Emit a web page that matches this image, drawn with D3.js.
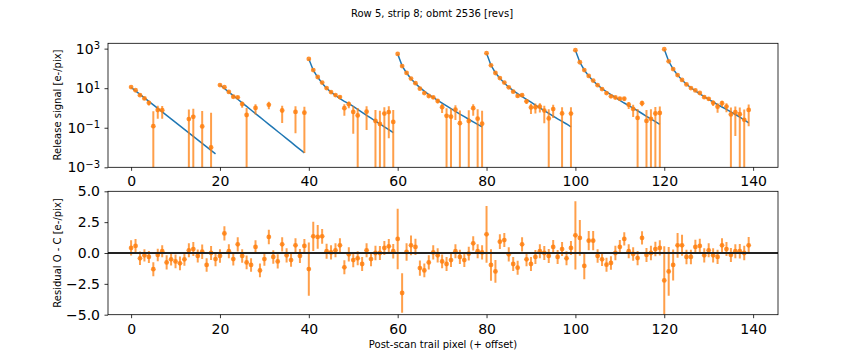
<!DOCTYPE html>
<html>
<head>
<meta charset="utf-8">
<script src="https://cdn.jsdelivr.net/npm/d3@7"></script>
<style>
  body { margin: 0; background: #fff; }
  text { font-family: "DejaVu Sans", sans-serif; fill: #000; }
</style>
</head>
<body>
<svg width="864" height="360"></svg>
<script>
// pixels per injection block
const segLen = 20;

// model (C) of the release signal, e-/pix, one value per trail pixel
const model = [
  10.96, 7.29, 4.85, 3.23, 2.15, 1.43, 0.951, 0.632, 0.421, 0.280,
  0.186, 0.124, 0.0824, 0.0548, 0.0365, 0.0243, 0.0161, 0.0107, 0.00714, 0.00475,
  14.6, 9.64, 6.35, 4.19, 2.76, 1.82, 1.20, 0.791, 0.521, 0.344,
  0.226, 0.149, 0.0984, 0.0649, 0.0428, 0.0282, 0.0186, 0.0122, 0.00807, 0.00532,
  302, 81.3, 35.5, 17.8, 10.0, 6.31, 4.27, 2.95, 2.14, 1.66,
  1.20, 0.851, 0.603, 0.427, 0.309, 0.219, 0.155, 0.112, 0.0794, 0.0562,
  537, 135, 58.9, 30.2, 17.4, 10.7, 7.08, 4.79, 3.39, 2.45,
  1.78, 1.29, 0.933, 0.676, 0.49, 0.363, 0.269, 0.2, 0.148, 0.11,
  589, 145, 60.3, 31.6, 18.2, 11.2, 7.59, 5.25, 3.72, 2.69,
  1.95, 1.41, 1.02, 0.741, 0.537, 0.389, 0.282, 0.209, 0.155, 0.112,
  832, 204, 83.2, 40.7, 23.4, 14.5, 9.55, 6.61, 4.68, 3.39,
  2.45, 1.78, 1.32, 0.977, 0.724, 0.525, 0.38, 0.282, 0.204, 0.148,
  933, 229, 93.3, 45.7, 25.7, 15.8, 10.5, 7.24, 5.13, 3.72,
  2.69, 2.0, 1.48, 1.12, 0.851, 0.631, 0.468, 0.347, 0.251, 0.178
];

// residual O - C, e-/pix
const resid = [
  0.41, 0.57, -0.43, -0.19, -0.32, -1.31, -0.16, 0.14, -0.76, -0.51,
  -0.68, -0.84, -0.51, 0.22, 0.32, -0.24, 0.10, -0.97, 0.003, -0.49,
  -0.24, 1.59, 0.14, -0.49, 0.70, -0.24, -0.76, -0.97, 0.49, -1.41,
  -0.49, 1.30, -0.32, -0.68, 0.70, -0.19, -0.57, 0.62, -0.24, 0.57,
  -1.30, 1.35, 1.30, 1.35, 0.14, 0.05, 0.22, 0.62, -1.16, -0.11,
  -0.57, -0.43, -0.89, 0.22, -0.49, 0.0, 0.0, 0.41, 0.54, 0.14,
  1.14, -3.24, 0.08, 0.62, 0.49, -1.22, -1.41, -0.76, 0.05, -0.19,
  -0.68, -0.89, -0.57, 0.14, -0.32, -0.57, -0.05, 0.78, 0.14, 0.05,
  1.51, -0.97, -1.49, 0.92, 1.05, -0.11, -0.89, -1.19, 0.70, -0.51,
  -0.89, -0.32, 0.14, 0.0, -0.24, 0.49, -0.32, 0.32, -0.43, 0.41,
  1.43, 1.22, -1.05, 1.0, 1.0, -0.24, -0.51, -0.95, -0.81, 0.0,
  0.49, 1.14, 0.14, -0.08, -0.41, 1.22, -0.16, 0.0, 0.32, 0.41,
  -2.22, -1.49, -0.97, 0.62, 0.62, -0.32, -0.32, 0.49, 0.57, -0.19,
  0.22, -0.19, -0.32, 0.62, 0.32, -0.16, 0.14, 0.14, 0.0, 0.62
];

// 1-sigma error, e-/pix
const err = [
  0.62, 0.57, 0.55, 0.49, 0.49, 0.57, 0.51, 0.49, 0.57, 0.50,
  0.55, 0.55, 0.53, 0.57, 0.57, 0.53, 0.58, 0.54, 0.57, 0.58,
  0.54, 0.57, 0.57, 0.53, 0.57, 0.54, 0.55, 0.54, 0.55, 0.55,
  0.54, 0.59, 0.55, 0.57, 0.57, 0.57, 0.55, 0.58, 0.57, 0.57,
  2.16, 1.19, 0.96, 0.60, 0.60, 0.57, 0.57, 0.58, 0.57, 0.58,
  0.58, 0.57, 0.57, 0.57, 0.58, 0.58, 0.57, 0.57, 0.59, 0.59,
  2.45, 1.60, 0.70, 0.80, 0.66, 0.62, 0.55, 0.57, 0.57, 0.57,
  0.55, 0.57, 0.57, 0.57, 0.58, 0.57, 0.55, 0.58, 0.57, 0.57,
  2.30, 1.28, 0.92, 0.60, 0.57, 0.57, 0.57, 0.57, 0.57, 0.57,
  0.57, 0.57, 0.57, 0.57, 0.57, 0.57, 0.57, 0.57, 0.57, 0.57,
  2.77, 1.45, 1.08, 0.78, 0.78, 0.55, 0.55, 0.57, 0.54, 0.58,
  0.57, 0.54, 0.57, 0.55, 0.58, 0.54, 0.57, 0.58, 0.59, 0.62,
  2.76, 1.97, 1.26, 1.00, 0.85, 0.59, 0.59, 0.58, 0.58, 0.57,
  0.57, 0.57, 0.58, 0.58, 0.57, 0.57, 0.57, 0.58, 0.58, 0.68
];

const xTicks = [0, 20, 40, 60, 80, 100, 120, 140];
const topTicks = [1e-3, 1e-1, 1e1, 1e3];
const botTicks = [-5, -2.5, 0, 2.5, 5];

const data = model.map((c, i) => ({ i: i, c: c, r: resid[i], e: err[i], o: c + resid[i] }));

const blue = "#1f77b4", orange = "#ff7f0e";

const svg = d3.select("svg");

const x = d3.scaleLinear().domain([-5.2, 145.6]).range([108, 778]);
const yTop = d3.scaleLog().domain([1e-3, Math.pow(10, 3.27)]).range([167.3, 43.3]);
const yBot = d3.scaleLinear().domain([-5, 5]).range([314.7, 191.3]);

// clip paths per panel
const defs = svg.append("defs");
[["clipTop", yTop], ["clipBot", yBot]].forEach(([id, y]) => {
  defs.append("clipPath").attr("id", id).append("rect")
    .attr("x", x.range()[0]).attr("y", y.range()[1])
    .attr("width", x.range()[1] - x.range()[0])
    .attr("height", y.range()[0] - y.range()[1]);
});

// ---------- top panel
const gt = svg.append("g").attr("clip-path", "url(#clipTop)");

const line = d3.line().x(d => x(d.i)).y(d => yTop(d.c));
d3.range(0, model.length, segLen).forEach(s => {
  gt.append("path")
    .datum(data.slice(s, s + segLen))
    .attr("fill", "none")
    .attr("stroke", blue)
    .attr("stroke-width", 1.5)
    .attr("d", line);
});

const pos = data.filter(d => d.o > 0);
gt.selectAll("line.eb").data(pos).enter().append("line")
  .attr("class", "eb")
  .attr("x1", d => x(d.i)).attr("x2", d => x(d.i))
  .attr("y1", d => d.o - d.e > 0 ? yTop(d.o - d.e) : 400)
  .attr("y2", d => yTop(d.o + d.e))
  .attr("stroke", orange).attr("stroke-width", 2).attr("stroke-opacity", 0.75);

gt.selectAll("circle").data(pos).enter().append("circle")
  .attr("cx", d => x(d.i)).attr("cy", d => yTop(d.o))
  .attr("r", 2.4)
  .attr("fill", orange).attr("fill-opacity", 0.85);

// ---------- bottom panel
const gb = svg.append("g").attr("clip-path", "url(#clipBot)");

gb.selectAll("line.eb").data(data).enter().append("line")
  .attr("class", "eb")
  .attr("x1", d => x(d.i)).attr("x2", d => x(d.i))
  .attr("y1", d => yBot(d.r - d.e))
  .attr("y2", d => yBot(d.r + d.e))
  .attr("stroke", orange).attr("stroke-width", 2).attr("stroke-opacity", 0.75);

gb.selectAll("circle").data(data).enter().append("circle")
  .attr("cx", d => x(d.i)).attr("cy", d => yBot(d.r))
  .attr("r", 2.4)
  .attr("fill", orange).attr("fill-opacity", 0.85);

gb.append("line")
  .attr("x1", x.range()[0]).attr("x2", x.range()[1])
  .attr("y1", yBot(0)).attr("y2", yBot(0))
  .attr("stroke", "#222").attr("stroke-width", 1.8);

// ---------- axes
function styleAxis(g) {
  g.select(".domain").remove();
  g.selectAll(".tick line").attr("stroke", "#000").attr("stroke-width", 0.8);
  g.selectAll(".tick text").attr("font-size", 14).attr("fill", "#000")
    .attr("font-family", "DejaVu Sans, sans-serif");
}

function supLabel(g) {
  g.selectAll(".tick text").each(function (d) {
    const t = d3.select(this).text(null);
    const ex = Math.round(Math.log10(d));
    t.append("tspan").text("10");
    t.append("tspan").attr("dy", "-0.45em").attr("font-size", 10)
      .text(ex < 0 ? "\u2212" + (-ex) : String(ex));
  });
}

[[yTop, 167.3], [yBot, 314.7]].forEach(([y, yb]) => {
  svg.append("g")
    .attr("transform", "translate(0," + yb + ")")
    .call(d3.axisBottom(x).tickValues(xTicks).tickSize(3.5).tickPadding(5.5))
    .call(styleAxis);
});

svg.append("g")
  .attr("transform", "translate(108,0)")
  .call(d3.axisLeft(yTop).tickValues(topTicks).tickSize(3.5).tickPadding(4.5))
  .call(styleAxis)
  .call(supLabel);

svg.append("g")
  .attr("transform", "translate(108,0)")
  .call(d3.axisLeft(yBot).tickValues(botTicks).tickSize(3.5).tickPadding(4.5)
    .tickFormat(d => d3.format(".1f")(d).replace("-", "\u2212")))
  .call(styleAxis);

// frames
[yTop, yBot].forEach(y => {
  svg.append("rect")
    .attr("x", x.range()[0]).attr("y", y.range()[1])
    .attr("width", x.range()[1] - x.range()[0])
    .attr("height", y.range()[0] - y.range()[1])
    .attr("fill", "none").attr("stroke", "#000").attr("stroke-width", 0.8);
});

// labels
svg.append("text")
  .attr("x", 432).attr("y", 17)
  .attr("text-anchor", "middle").attr("font-size", 10)
  .text("Row 5, strip 8; obmt 2536 [revs]");

svg.append("text")
  .attr("x", 443).attr("y", 348)
  .attr("text-anchor", "middle").attr("font-size", 10)
  .text("Post-scan trail pixel (+ offset)");

svg.append("text")
  .attr("transform", "translate(61,105) rotate(-90)")
  .attr("text-anchor", "middle").attr("font-size", 10)
  .text("Release signal [e-/pix]");

svg.append("text")
  .attr("transform", "translate(61,253) rotate(-90)")
  .attr("text-anchor", "middle").attr("font-size", 10)
  .text("Residual O - C [e-/pix]");
</script>
</body>
</html>
